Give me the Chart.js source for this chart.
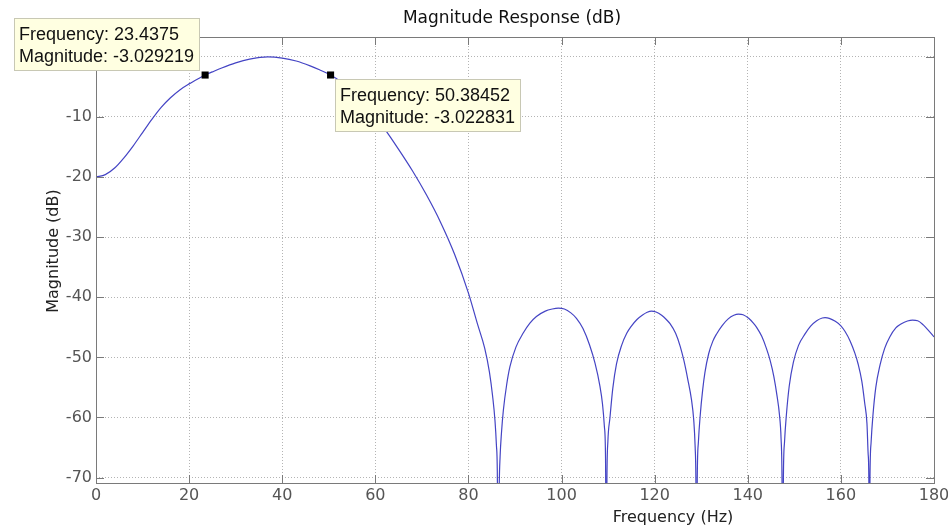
<!DOCTYPE html>
<html>
<head>
<meta charset="utf-8">
<title>Magnitude Response (dB)</title>
<style>
  html, body { margin: 0; padding: 0; background: #ffffff; }
  #wrap { width: 948px; height: 529px; }
</style>
<script src="https://cdn.jsdelivr.net/npm/chart.js@4.4.1/dist/chart.umd.min.js"></script>
</head>
<body>
<div id="wrap"><canvas id="c" width="948" height="529"></canvas></div>
<script>
// Filter magnitude response samples: frequency (Hz) and magnitude (dB).
// Nulls fall far below the plotted range and are clipped at the bottom edge.

// main lobe, 0 .. first null
const mainLobeHz = [
  0, 2, 4, 6, 8, 10, 12, 14, 16, 18, 20, 22, 23.4375, 25, 27, 30, 33, 36.9, 40, 43, 46, 48,
  50.38452, 53, 56, 59, 62, 65, 68, 71, 74, 77, 80, 82, 83.5, 84.5, 85.2, 85.7, 86.0, 86.2, 86.4
];
const mainLobeDb = [
  -20.0, -19.6, -18.5, -16.8, -14.8, -12.6, -10.4, -8.4, -6.8, -5.5, -4.5, -3.62, -3.029219, -2.5, -1.85, -1.0, -0.38, 0.0, -0.2, -0.7, -1.5, -2.15,
  -3.022831, -4.35, -6.3, -8.85, -12.0, -15.4, -19.0, -23.0, -27.5, -32.8, -39.3, -44.6, -48.5, -52.4, -56.5, -60.5, -64.5, -69.0, -90
];

// stopband side lobes, first null .. 180 Hz
const sideLobeHz = [
  86.6, 86.8, 87.1, 87.5, 88.2, 88.9, 90.2, 91.8, 93.2, 94.6, 96.5, 98.0, 99.3, 100.6, 102.0, 103.2, 104.6, 106.0, 107.2, 108.2, 108.8, 109.2, 109.45, 109.6,
  109.75, 109.95, 110.4, 111.0, 111.8, 112.9, 114.0, 115.0, 116.2, 117.4, 118.4, 119.3, 120.3, 121.5, 122.5, 123.3, 124.5, 125.5, 126.3, 127.1, 127.9, 128.4, 128.7, 128.85, 129.0,
  129.15, 129.4, 129.8, 130.3, 130.8, 131.6, 132.5, 133.3, 134.5, 135.8, 137.0, 138.0, 139.0, 140.2, 141.2, 141.9, 143.0, 144.0, 144.8, 145.6, 146.3, 146.8, 147.15, 147.35, 147.5,
  147.65, 147.9, 148.3, 148.9, 149.8, 150.9, 152.3, 153.5, 154.8, 156.0, 156.6, 157.5, 158.8, 160.0, 160.9, 162.0, 163.0, 163.7, 164.5, 165.1, 165.6, 165.85, 166.0, 166.1,
  166.25, 166.5, 166.9, 167.5, 168.4, 169.4, 170.5, 171.8, 173.0, 174.3, 175.4, 176.5, 177.7, 178.8, 180
];
const sideLobeDb = [
  -72, -66.5, -62.5, -58.8, -54.6, -51.6, -48.3, -45.9, -44.3, -43.2, -42.3, -41.95, -41.8, -41.95, -42.6, -43.5, -45.2, -47.9, -51.0, -54.6, -57.8, -61.5, -67, -90,
  -70, -64, -60.0, -55.2, -51.1, -48.0, -46.0, -44.8, -43.7, -42.95, -42.5, -42.3, -42.45, -43.0, -43.7, -44.4, -46.0, -48.2, -50.6, -53.6, -57.0, -60.5, -65, -70, -90,
  -70, -64, -59.5, -55.5, -52.5, -49.4, -47.3, -46.1, -44.7, -43.6, -43.0, -42.8, -42.9, -43.5, -44.3, -45.0, -46.5, -48.5, -50.5, -53.2, -56.5, -59.5, -63.5, -70, -90,
  -70, -64, -59.5, -54.8, -50.8, -48.0, -46.1, -44.8, -43.9, -43.45, -43.4, -43.5, -44.0, -44.75, -45.7, -47.3, -49.3, -51.1, -54.0, -57.5, -61, -66, -70, -90,
  -70, -64, -59.5, -55, -51.3, -48.5, -46.6, -45.1, -44.4, -43.95, -43.8, -43.9, -44.6, -45.5, -46.6
];

// Axis ticks
const xTicks = [0, 20, 40, 60, 80, 100, 120, 140, 160, 180];
const yTicks = [-70, -60, -50, -40, -30, -20, -10, 0];

// Data tips (-3 dB band edges)
const tipFreq = [23.4375, 50.38452];
const tipMag = [-3.029219, -3.022831];

const AXIS_FONT = '"DejaVu Sans", sans-serif';
const TIP_FONT = '"Liberation Sans", Arial, sans-serif';

const freqHz = mainLobeHz.concat(sideLobeHz);
const magnitudeDb = mainLobeDb.concat(sideLobeDb);
const responsePoints = freqHz.map((f, i) => ({ x: f, y: magnitudeDb[i] }));
const tipPoints = tipFreq.map((f, i) => ({ x: f, y: tipMag[i] }));

// Box frame with inward ticks, titles and data-tip boxes.
const decorations = {
  id: 'decorations',
  afterDraw(chart) {
    const { ctx, chartArea: a, scales } = chart;
    const xs = scales.x, ys = scales.y;
    ctx.save();

    // axes box
    ctx.strokeStyle = '#7a7a7a';
    ctx.lineWidth = 1;
    ctx.setLineDash([]);
    ctx.strokeRect(a.left + 0.5, a.top + 0.5, a.right - a.left, a.bottom - a.top);

    // inward tick marks on all four sides
    const tl = 8;
    ctx.beginPath();
    xTicks.forEach(v => {
      const px = Math.round(xs.getPixelForValue(v)) + 0.5;
      ctx.moveTo(px, a.bottom); ctx.lineTo(px, a.bottom - tl);
      ctx.moveTo(px, a.top); ctx.lineTo(px, a.top + tl);
    });
    yTicks.forEach(v => {
      const py = Math.round(ys.getPixelForValue(v)) + 0.5;
      ctx.moveTo(a.left, py); ctx.lineTo(a.left + tl, py);
      ctx.moveTo(a.right, py); ctx.lineTo(a.right - tl, py);
    });
    ctx.stroke();

    // title
    ctx.fillStyle = '#111111';
    ctx.font = '17px ' + AXIS_FONT;
    ctx.textAlign = 'center';
    ctx.textBaseline = 'alphabetic';
    ctx.fillText('Magnitude Response (dB)', 512, 23);

    // axis titles
    ctx.fillStyle = '#222222';
    ctx.font = '16px ' + AXIS_FONT;
    ctx.fillText('Frequency (Hz)', 673, 522);
    ctx.save();
    ctx.translate(57.5, 251);
    ctx.rotate(-Math.PI / 2);
    ctx.fillText('Magnitude (dB)', 0, 0);
    ctx.restore();

    // data tips
    ctx.font = '18px ' + TIP_FONT;
    ctx.textAlign = 'left';
    tipFreq.forEach((f, i) => {
      const mx = xs.getPixelForValue(f);
      const my = ys.getPixelForValue(tipMag[i]);
      const lines = ['Frequency: ' + f, 'Magnitude: ' + tipMag[i]];
      const w = Math.ceil(Math.max(...lines.map(t => ctx.measureText(t).width))) + 10;
      const h = 53;
      let left, top;
      if (i === 0) { left = Math.round(mx) - 5 - w; top = Math.round(my) - 4 - h; }
      else { left = Math.round(mx) + 4; top = Math.round(my) + 4; }
      ctx.fillStyle = '#ffffe1';
      ctx.fillRect(left, top, w, h);
      ctx.strokeStyle = '#c8c8b4';
      ctx.strokeRect(left + 0.5, top + 0.5, w - 1, h - 1);
      ctx.fillStyle = '#111111';
      ctx.fillText(lines[0], left + 5, top + 22);
      ctx.fillText(lines[1], left + 5, top + 44);
    });

    ctx.restore();
  }
};

new Chart(document.getElementById('c'), {
  type: 'line',
  data: {
    datasets: [
      {
        label: 'Data tips',
        data: tipPoints,
        showLine: false,
        pointStyle: 'rect',
        pointRadius: 5,
        pointBackgroundColor: '#000000',
        pointBorderColor: '#000000',
        pointBorderWidth: 0
      },
      {
        label: 'Magnitude',
        data: responsePoints,
        borderColor: '#4444c4',
        borderWidth: 1.2,
        pointRadius: 0,
        fill: false,
        cubicInterpolationMode: 'monotone'
      }
    ]
  },
  options: {
    responsive: false,
    animation: false,
    devicePixelRatio: 1,
    layout: { padding: { left: 0, right: 14, top: 37, bottom: 0 } },
    plugins: {
      legend: { display: false },
      tooltip: { enabled: false },
      title: { display: false }
    },
    scales: {
      x: {
        type: 'linear',
        min: 0,
        max: 180,
        afterBuildTicks: s => { s.ticks = xTicks.map(v => ({ value: v })); },
        afterFit: s => { s.height = 46; s.paddingLeft = 0; s.paddingRight = 0; },
        ticks: {
          autoSkip: false, maxRotation: 0, padding: 3,
          color: '#555555',
          font: { family: AXIS_FONT, size: 16 },
          callback: v => String(v)
        },
        grid: { color: '#b4b4b4', lineWidth: 1, drawTicks: false },
        border: { display: false, dash: [1, 2] }
      },
      y: {
        type: 'linear',
        min: -70.9,
        max: 3.3,
        afterBuildTicks: s => { s.ticks = yTicks.map(v => ({ value: v })); },
        afterFit: s => { s.width = 96; s.paddingTop = 0; s.paddingBottom = 0; },
        ticks: {
          autoSkip: false, padding: 4,
          color: '#555555',
          font: { family: AXIS_FONT, size: 16 },
          callback: v => String(v)
        },
        grid: { color: '#b4b4b4', lineWidth: 1, drawTicks: false },
        border: { display: false, dash: [1, 2] }
      }
    }
  },
  plugins: [decorations]
});
</script>
</body>
</html>
